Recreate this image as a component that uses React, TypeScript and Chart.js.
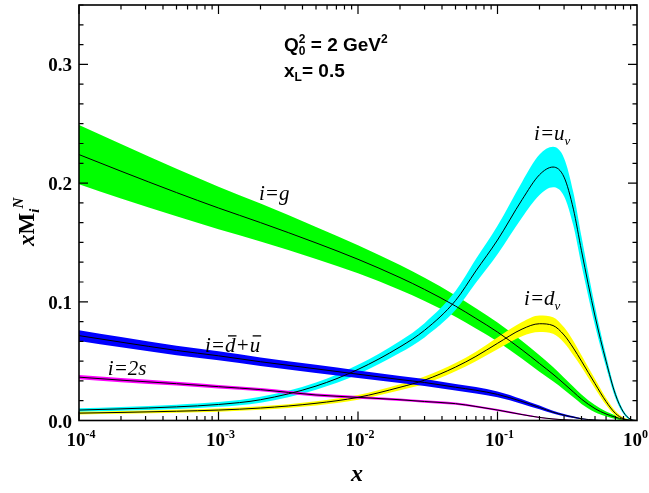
import React, { useEffect, useRef } from 'react';
import { Chart, registerables } from 'chart.js';
Chart.register(...registerables);

// ---- data ----
const X = [1e-4, 2e-4, 5e-4, 1e-3, 2e-3, 5e-3, 0.01, 0.02, 0.03, 0.05, 0.07, 0.1, 0.15, 0.2, 0.25, 0.3, 0.35, 0.4, 0.5, 0.6, 0.7, 0.8, 0.9, 1.0];

const G = [0.224, 0.210, 0.192, 0.179, 0.1667, 0.1496, 0.1358, 0.1204, 0.1104, 0.0964, 0.0860, 0.0745, 0.0595, 0.048, 0.039, 0.031, 0.024, 0.018, 0.010, 0.0055, 0.0028, 0.001, 0.0002, 0];
const G_ERR = [0.025, 0.023, 0.020, 0.018, 0.016, 0.0135, 0.0118, 0.0105, 0.0098, 0.009, 0.0085, 0.008, 0.0075, 0.007, 0.006, 0.005, 0.0045, 0.004, 0.003, 0.002, 0.0015, 0.001, 0.0005, 0];

const UV = [0.0088, 0.0098, 0.0115, 0.0135, 0.0175, 0.029, 0.043, 0.062, 0.076, 0.101, 0.126, 0.152, 0.186, 0.207, 0.2135, 0.205, 0.178, 0.143, 0.088, 0.050, 0.022, 0.007, 0.001, 0];
const UV_ERR = [0.0015, 0.0016, 0.0018, 0.002, 0.0025, 0.003, 0.004, 0.005, 0.006, 0.008, 0.010, 0.012, 0.015, 0.017, 0.017, 0.016, 0.014, 0.012, 0.008, 0.005, 0.003, 0.0015, 0.0005, 0];

const DV = [0.0062, 0.0068, 0.0078, 0.0088, 0.0105, 0.0145, 0.0195, 0.028, 0.034, 0.045, 0.054, 0.065, 0.077, 0.0815, 0.080, 0.072, 0.061, 0.050, 0.031, 0.016, 0.006, 0.0015, 0.0002, 0];
const DV_ERR = [0.0012, 0.0012, 0.0013, 0.0014, 0.0015, 0.0018, 0.002, 0.0025, 0.003, 0.0035, 0.004, 0.005, 0.006, 0.007, 0.007, 0.0065, 0.006, 0.005, 0.004, 0.003, 0.002, 0.001, 0.0003, 0];

const SEA = [0.0715, 0.066, 0.059, 0.0545, 0.0495, 0.0435, 0.039, 0.0345, 0.032, 0.028, 0.0255, 0.022, 0.016, 0.011, 0.007, 0.0045, 0.0028, 0.0015, 0.0004, 0.0001, 0, 0, 0, 0];
const SEA_ERR = [0.0045, 0.0043, 0.004, 0.0038, 0.0036, 0.0034, 0.0032, 0.003, 0.003, 0.0028, 0.0027, 0.0025, 0.002, 0.0016, 0.0012, 0.0009, 0.0007, 0.0005, 0.0002, 0.0001, 0, 0, 0, 0];

const S2 = [0.0365, 0.034, 0.031, 0.0285, 0.026, 0.0215, 0.0195, 0.0175, 0.016, 0.0142, 0.0118, 0.0088, 0.005, 0.0026, 0.0013, 0.0006, 0.0003, 0.0001, 0, 0, 0, 0, 0, 0];
const S2_ERR = [0.0018, 0.0017, 0.0016, 0.0015, 0.0014, 0.0013, 0.0012, 0.0011, 0.001, 0.001, 0.0009, 0.0008, 0.0006, 0.0004, 0.0003, 0.0002, 0.0001, 0, 0, 0, 0, 0, 0, 0];

const Y_TICKS = [0, 0.1, 0.2, 0.3];
const Y_TICK_LABELS = ['0.0', '0.1', '0.2', '0.3'];
const Y_MINOR_DIV = 6;
const Y_MAX = 0.35;
const X_MIN = 1e-4;
const X_MAX = 1;
const X_TICKS = [1e-4, 1e-3, 1e-2, 1e-1, 1];
const X_TICK_EXP = ['-4', '-3', '-2', '-1', '0'];

// label anchors in data space (left edge, baseline)
const LABEL_G = { x: 0.00195, y: 0.1856 };
const LABEL_UV = { x: 0.183, y: 0.236 };
const LABEL_DV = { x: 0.155, y: 0.0972 };
const LABEL_SEA = { x: 0.0008, y: 0.0575 };
const LABEL_S2 = { x: 0.000161, y: 0.0383 };
const LABEL_Q = { x: 0.00295, y: 0.311 };
const LABEL_XL = { x: 0.00295, y: 0.289 };

const SERIF = '"Liberation Serif", "Times New Roman", serif';
const SANS = '"Liberation Sans", Arial, sans-serif';

type Part = { t: string; font: string; dy?: number; dx?: number; over?: boolean; noAdvance?: boolean };

function drawParts(ctx: CanvasRenderingContext2D, x: number, y: number, parts: Part[]) {
  let cx = x;
  let pendingMax = 0;
  for (const p of parts) {
    ctx.font = p.font;
    const w = ctx.measureText(p.t).width;
    cx += p.dx || 0;
    ctx.fillText(p.t, cx, y + (p.dy || 0));
    if (p.over) {
      ctx.fillRect(cx + 3, y - 17, w - 2, 1.3);
    }
    if (p.noAdvance) {
      pendingMax = Math.max(pendingMax, w);
    } else {
      cx += Math.max(w, pendingMax);
      pendingMax = 0;
    }
  }
  return cx - x;
}

function partsWidth(ctx: CanvasRenderingContext2D, parts: Part[]) {
  let w = 0;
  let pendingMax = 0;
  for (const p of parts) {
    ctx.font = p.font;
    const pw = ctx.measureText(p.t).width;
    w += p.dx || 0;
    if (p.noAdvance) pendingMax = Math.max(pendingMax, pw);
    else { w += Math.max(pw, pendingMax); pendingMax = 0; }
  }
  return w;
}

function band(center: number[], err: number[], color: string, order: number) {
  const up = X.map((x, i) => ({ x, y: center[i] + err[i] }));
  const lo = X.map((x, i) => ({ x, y: Math.max(0, center[i] - err[i]) }));
  const common = { borderColor: 'rgba(0,0,0,0)', borderWidth: 0, pointRadius: 0, order, cubicInterpolationMode: 'monotone' as const };
  return [
    { ...common, data: up, fill: '+1', backgroundColor: color },
    { ...common, data: lo, fill: false },
  ];
}

function line(center: number[]) {
  return {
    data: X.map((x, i) => ({ x, y: center[i] })),
    borderColor: '#000',
    borderWidth: 1,
    pointRadius: 0,
    fill: false,
    order: 0,
    cubicInterpolationMode: 'monotone' as const,
  };
}

const framePlugin = {
  id: 'frame',
  afterDraw(chart: any) {
    const { ctx, chartArea: a, scales, width } = chart;
    const xs = scales.x;
    const ys = scales.y;
    ctx.save();
    ctx.strokeStyle = '#000';
    ctx.fillStyle = '#000';
    // ticks
    ctx.lineWidth = 1.2;
    ctx.beginPath();
    const step = 0.1 / Y_MINOR_DIV;
    for (let k = 0; k * step <= Y_MAX + 1e-9; k++) {
      const py = ys.getPixelForValue(k * step);
      const len = k % Y_MINOR_DIV === 0 ? 9 : 4.5;
      ctx.moveTo(a.left, py); ctx.lineTo(a.left + len, py);
      ctx.moveTo(a.right, py); ctx.lineTo(a.right - len, py);
    }
    for (let d = Math.log10(X_MIN); d < Math.log10(X_MAX); d++) {
      for (let m = 1; m <= 9; m++) {
        const v = m * Math.pow(10, d);
        const px = xs.getPixelForValue(v);
        const len = m === 1 ? 9 : 4.5;
        ctx.moveTo(px, a.bottom); ctx.lineTo(px, a.bottom - len);
        ctx.moveTo(px, a.top); ctx.lineTo(px, a.top + len);
      }
    }
    ctx.stroke();
    ctx.lineWidth = 1.6;
    ctx.strokeRect(a.left, a.top, a.right - a.left, a.bottom - a.top);

    // y tick labels
    ctx.textAlign = 'right';
    ctx.textBaseline = 'alphabetic';
    ctx.font = `bold 19px ${SERIF}`;
    Y_TICKS.forEach((v, i) => {
      ctx.fillText(Y_TICK_LABELS[i], a.left - 7, ys.getPixelForValue(v) + 7);
    });

    // x tick labels
    ctx.textAlign = 'left';
    X_TICKS.forEach((v, i) => {
      const parts: Part[] = [
        { t: '10', font: `bold 19px ${SERIF}` },
        { t: X_TICK_EXP[i], font: `bold 12px ${SERIF}`, dy: -8 },
      ];
      const w = partsWidth(ctx, parts);
      const start = Math.min(xs.getPixelForValue(v) - w / 2 + 2, width - w - 1);
      drawParts(ctx, start, a.bottom + 25, parts);
    });

    // axis titles
    ctx.font = `bold italic 24px ${SERIF}`;
    ctx.textAlign = 'center';
    ctx.fillText('x', (a.left + a.right) / 2 - 1, a.bottom + 60);
    ctx.textAlign = 'left';

    ctx.save();
    ctx.translate(34, 246);
    ctx.rotate(-Math.PI / 2);
    drawParts(ctx, 0, 0, [
      { t: 'x', font: `bold italic 23px ${SERIF}` },
      { t: 'M', font: `bold 23px ${SERIF}` },
      { t: 'i', font: `bold italic 15px ${SERIF}`, dy: 5 },
      { t: 'N', font: `bold italic 15px ${SERIF}`, dy: -11 },
    ]);
    ctx.restore();

    // curve labels
    const it = `italic 21px ${SERIF}`;
    const sub = `italic 13px ${SERIF}`;
    const P = (p: { x: number; y: number }) => [xs.getPixelForValue(p.x), ys.getPixelForValue(p.y)];
    let [lx, ly] = P(LABEL_G);
    drawParts(ctx, lx, ly, [{ t: 'i=g', font: it }]);
    [lx, ly] = P(LABEL_UV);
    drawParts(ctx, lx, ly, [{ t: 'i=u', font: it }, { t: 'v', font: sub, dy: 5 }]);
    [lx, ly] = P(LABEL_DV);
    drawParts(ctx, lx, ly, [{ t: 'i=d', font: it }, { t: 'v', font: sub, dy: 5 }]);
    [lx, ly] = P(LABEL_SEA);
    drawParts(ctx, lx, ly, [
      { t: 'i=', font: it },
      { t: 'd', font: it, over: true },
      { t: '+', font: it },
      { t: 'u', font: it, over: true },
    ]);
    [lx, ly] = P(LABEL_S2);
    drawParts(ctx, lx, ly, [{ t: 'i=2s', font: it }]);

    // Q0^2 annotation
    const b18 = `bold 19px ${SANS}`;
    const b12 = `bold 12px ${SANS}`;
    [lx, ly] = P(LABEL_Q);
    drawParts(ctx, lx, ly, [
      { t: 'Q', font: b18 },
      { t: '2', font: b12, dy: -8, noAdvance: true },
      { t: '0', font: b12, dy: 4 },
      { t: ' = 2 GeV', font: b18 },
      { t: '2', font: b12, dy: -8 },
    ]);
    [lx, ly] = P(LABEL_XL);
    drawParts(ctx, lx, ly, [
      { t: 'x', font: b18 },
      { t: 'L', font: b12, dy: 4 },
      { t: '= 0.5', font: b18 },
    ]);
    ctx.restore();
  },
};

export default function App() {
  const ref = useRef<HTMLCanvasElement | null>(null);
  useEffect(() => {
    if (!ref.current) return;
    const chart = new Chart(ref.current, {
      type: 'line',
      data: {
        datasets: [
          ...band(G, G_ERR, '#00ff00', 5),
          ...band(UV, UV_ERR, '#00ffff', 4),
          ...band(DV, DV_ERR, '#ffff00', 3),
          ...band(SEA, SEA_ERR, '#0000ff', 2),
          ...band(S2, S2_ERR, '#ff00ff', 1),
          line(G),
          line(UV),
          line(DV),
          line(SEA),
          line(S2),
        ] as any,
      },
      options: {
        animation: false,
        responsive: false,
        devicePixelRatio: 1,
        events: [],
        layout: { padding: { left: 79, top: 5, right: 12, bottom: 72.5 } },
        plugins: { legend: { display: false }, tooltip: { enabled: false } },
        scales: {
          x: { type: 'logarithmic', min: X_MIN, max: X_MAX, display: false },
          y: { type: 'linear', min: 0, max: Y_MAX, display: false },
        },
      },
      plugins: [framePlugin],
    });
    return () => chart.destroy();
  }, []);
  return (
    <div style={{ position: 'fixed', left: 0, top: 0, width: 649, height: 493, background: '#fff' }}>
      <canvas ref={ref} width={649} height={493} />
    </div>
  );
}
